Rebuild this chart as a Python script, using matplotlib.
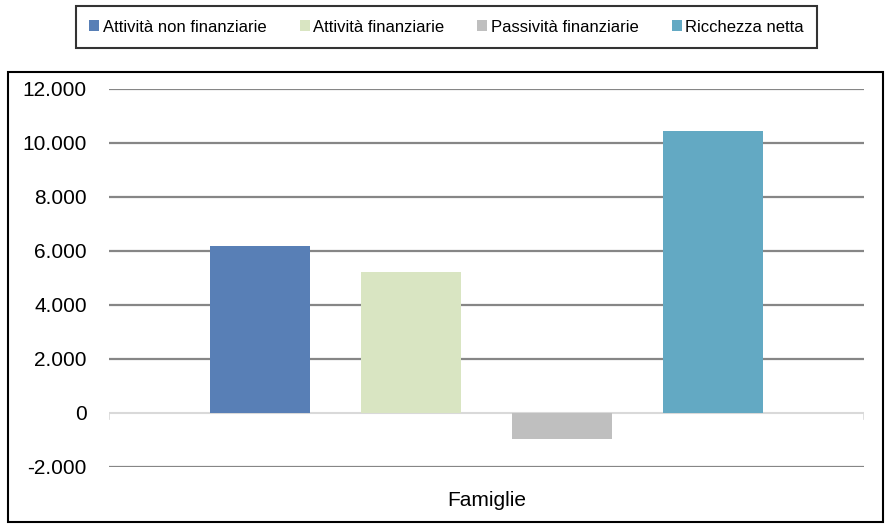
import matplotlib
matplotlib.use("Agg")
import matplotlib.pyplot as plt
from matplotlib.patches import Rectangle, Patch

# Household balance sheet (Famiglie)
series = ["Attività non finanziarie", "Attività finanziarie",
          "Passività finanziarie", "Ricchezza netta"]
values = [6180, 5230, -970, 10440]
colors = ["#587fb6", "#d9e5c2", "#bfbfbf", "#63a9c3"]
yticks = [-2000, 0, 2000, 4000, 6000, 8000, 10000, 12000]
category = "Famiglie"

plt.rcParams["font.family"] = ["Liberation Sans", "DejaVu Sans"]

fig = plt.figure(figsize=(8.9, 5.27), dpi=100)
ax = fig.add_axes([109/890, 1-467/527, 755/890, 378/527])

x = list(range(len(values)))
ax.bar(x, values, width=0.665, color=colors, zorder=3)

ax.set_xlim(-1, 4)
ax.set_ylim(-2000, 12000)
ax.set_yticks(yticks)
ax.set_yticklabels([f"{v:,}".replace(",", ".") for v in yticks], fontsize=15)
ax.tick_params(axis="y", length=0, pad=16)
ax.set_xticks([])
for s in ax.spines.values():
    s.set_visible(False)

# gridlines, the zero line is drawn lighter
for v in yticks:
    if v == 0:
        ax.axhline(v, color="#d9d9d9", lw=1.5, zorder=2)
    else:
        ax.axhline(v, color="#868686", lw=1.6, zorder=1)
for xe in (-1, 4):
    ax.plot([xe, xe], [0, -220], color="#d9d9d9", lw=1.2, zorder=2)

# category name under the axis
fig.text(487/890, 1-506/527, category, fontsize=15, ha="center", va="baseline")

# outer frame around the chart area
fig.patches.append(Rectangle((8/890, 1-522/527), 875/890, 450/527,
                             transform=fig.transFigure, fill=False,
                             edgecolor="black", lw=1.5))

handles = [Patch(facecolor=c, label=s) for c, s in zip(colors, series)]
leg = fig.legend(handles=handles, loc="center", ncol=4,
                 bbox_to_anchor=(446.5/890, 1-27/527), fontsize=12,
                 frameon=True, fancybox=False, edgecolor="black",
                 handlelength=0.6, handleheight=0.6, handletextpad=0.2,
                 columnspacing=2.0, borderpad=0.8, borderaxespad=0)
leg.get_frame().set_linewidth(1.5)

fig.savefig("out.png", dpi=100)
